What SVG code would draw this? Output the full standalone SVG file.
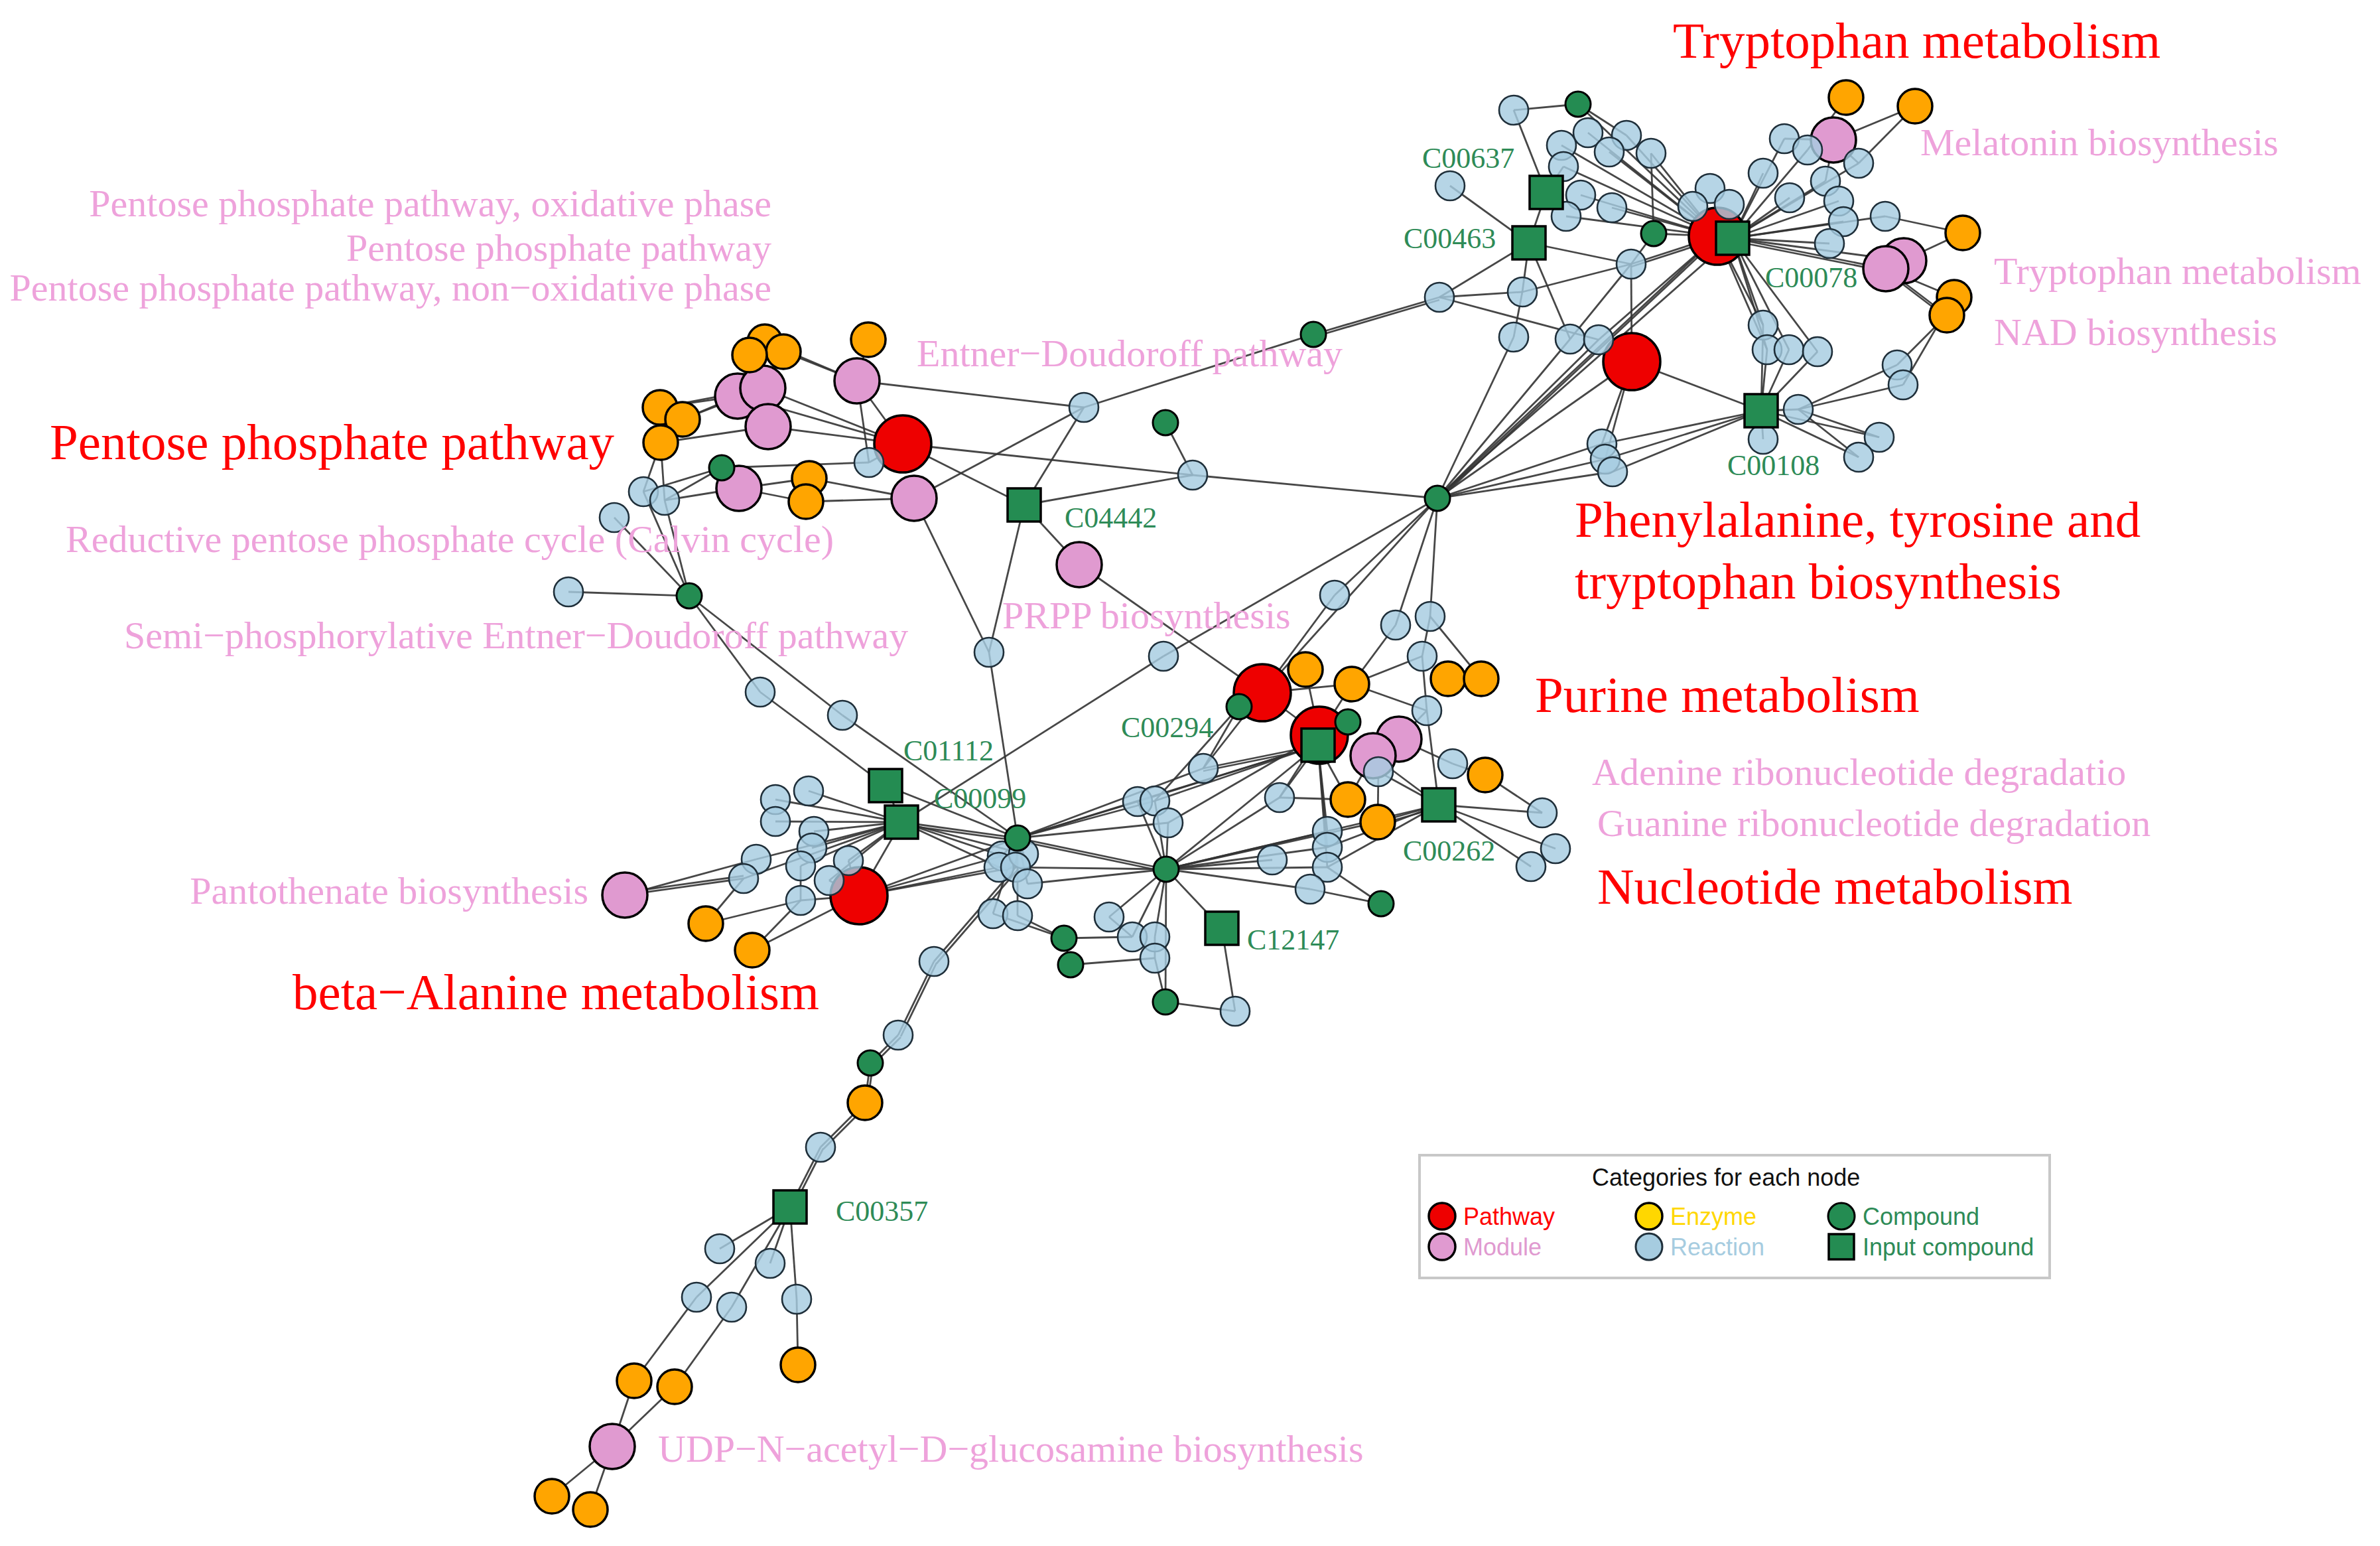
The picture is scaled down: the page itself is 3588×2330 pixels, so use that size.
<svg xmlns="http://www.w3.org/2000/svg" width="3588" height="2330" viewBox="0 0 3588 2330">
<style>
.e line{stroke:#333;stroke-width:2.8;stroke-opacity:0.9}
.P{fill:#EE0000;stroke:#000;stroke-width:3.5}
.M{fill:#E09AD0;stroke:#000;stroke-width:3.5}
.E{fill:#FFA500;stroke:#000;stroke-width:3.5}
.R{fill:#A6CCE0;fill-opacity:0.82;stroke:#1f2f3a;stroke-width:2.6}
.C{fill:#248C52;stroke:#000;stroke-width:3}
.S{fill:#248C52;stroke:#000;stroke-width:3.5}
.Y{fill:#FFD700;stroke:#000;stroke-width:3.5}
text{font-family:"Liberation Serif","Times New Roman",serif}
.lr{fill:#FF0000;font-size:77px}
.lp{fill:#EEA2DB;font-size:58px}
.lg{fill:#2E8B57;font-size:44px}
.lt{font-family:"Liberation Sans",Arial,sans-serif;font-size:36px}
</style>
<rect width="3588" height="2330" fill="#fff"/>
<g class="e" id="connectors">
<line x1="1181" y1="530" x2="1292" y2="574"/>
<line x1="1153" y1="515" x2="1292" y2="574"/>
<line x1="1309" y1="512" x2="1292" y2="574"/>
<line x1="1292" y1="574" x2="1361" y2="669"/>
<line x1="1292" y1="574" x2="1310" y2="697"/>
<line x1="1292" y1="574" x2="1634" y2="614"/>
<line x1="1150" y1="585" x2="995" y2="614"/>
<line x1="1150" y1="585" x2="1029" y2="632"/>
<line x1="1112" y1="597" x2="995" y2="614"/>
<line x1="1112" y1="597" x2="1029" y2="632"/>
<line x1="1150" y1="585" x2="1361" y2="669"/>
<line x1="1112" y1="597" x2="1361" y2="669"/>
<line x1="1158" y1="643" x2="1361" y2="669"/>
<line x1="1158" y1="643" x2="996" y2="667"/>
<line x1="1130" y1="535" x2="1112" y2="597"/>
<line x1="1153" y1="515" x2="1150" y2="585"/>
<line x1="1361" y1="669" x2="1798" y2="716"/>
<line x1="1361" y1="669" x2="1544" y2="761"/>
<line x1="1361" y1="669" x2="1310" y2="697"/>
<line x1="1088" y1="705" x2="1310" y2="697"/>
<line x1="1088" y1="705" x2="970" y2="741"/>
<line x1="1088" y1="705" x2="1002" y2="754"/>
<line x1="1114" y1="736" x2="1220" y2="721"/>
<line x1="1114" y1="736" x2="1215" y2="756"/>
<line x1="1220" y1="721" x2="1378" y2="751"/>
<line x1="1215" y1="756" x2="1378" y2="751"/>
<line x1="970" y1="741" x2="996" y2="667"/>
<line x1="1002" y1="754" x2="996" y2="667"/>
<line x1="1002" y1="754" x2="1114" y2="736"/>
<line x1="926" y1="780" x2="1039" y2="898"/>
<line x1="970" y1="741" x2="1039" y2="898"/>
<line x1="1002" y1="754" x2="1039" y2="898"/>
<line x1="1039" y1="898" x2="857" y2="892"/>
<line x1="1039" y1="898" x2="1146" y2="1043"/>
<line x1="1039" y1="898" x2="1270" y2="1078"/>
<line x1="1146" y1="1043" x2="1335" y2="1184"/>
<line x1="1270" y1="1078" x2="1534" y2="1263"/>
<line x1="1378" y1="751" x2="1491" y2="983"/>
<line x1="1544" y1="761" x2="1491" y2="983"/>
<line x1="1544" y1="761" x2="1627" y2="851"/>
<line x1="1627" y1="851" x2="1903" y2="1044"/>
<line x1="1491" y1="983" x2="1534" y2="1263"/>
<line x1="1634" y1="614" x2="1378" y2="751"/>
<line x1="1634" y1="614" x2="1544" y2="761"/>
<line x1="1634" y1="614" x2="1980" y2="504"/>
<line x1="1757" y1="637" x2="1798" y2="716"/>
<line x1="1798" y1="716" x2="1544" y2="761"/>
<line x1="1798" y1="716" x2="2167" y2="751"/>
<line x1="1754" y1="989" x2="1359" y2="1239"/>
<line x1="1754" y1="989" x2="2167" y2="751"/>
<line x1="1980" y1="504" x2="2170" y2="448"/>
<line x1="1980" y1="508" x2="2170" y2="452"/>
<line x1="942" y1="1349" x2="1121" y2="1324"/>
<line x1="942" y1="1349" x2="1140" y2="1295"/>
<line x1="942" y1="1345" x2="1121" y2="1320"/>
<line x1="1064" y1="1392" x2="1121" y2="1324"/>
<line x1="1064" y1="1392" x2="1207" y2="1357"/>
<line x1="1134" y1="1432" x2="1207" y2="1357"/>
<line x1="1134" y1="1432" x2="1295" y2="1350"/>
<line x1="1359" y1="1239" x2="1169" y2="1205"/>
<line x1="1359" y1="1239" x2="1219" y2="1192"/>
<line x1="1359" y1="1239" x2="1169" y2="1238"/>
<line x1="1359" y1="1239" x2="1227" y2="1253"/>
<line x1="1359" y1="1239" x2="1224" y2="1278"/>
<line x1="1359" y1="1239" x2="1140" y2="1295"/>
<line x1="1359" y1="1239" x2="1207" y2="1305"/>
<line x1="1359" y1="1239" x2="1121" y2="1324"/>
<line x1="1359" y1="1239" x2="1279" y2="1297"/>
<line x1="1359" y1="1239" x2="1250" y2="1327"/>
<line x1="1359" y1="1239" x2="1295" y2="1350"/>
<line x1="1335" y1="1184" x2="1534" y2="1263"/>
<line x1="1359" y1="1239" x2="1534" y2="1263"/>
<line x1="1359" y1="1243" x2="1534" y2="1267"/>
<line x1="1359" y1="1239" x2="1511" y2="1290"/>
<line x1="1359" y1="1239" x2="1506" y2="1307"/>
<line x1="1359" y1="1239" x2="1543" y2="1287"/>
<line x1="1279" y1="1297" x2="1295" y2="1350"/>
<line x1="1250" y1="1327" x2="1295" y2="1350"/>
<line x1="1207" y1="1357" x2="1295" y2="1350"/>
<line x1="1207" y1="1305" x2="1207" y2="1357"/>
<line x1="1295" y1="1350" x2="1511" y2="1290"/>
<line x1="1295" y1="1350" x2="1506" y2="1307"/>
<line x1="1295" y1="1350" x2="1534" y2="1263"/>
<line x1="1295" y1="1350" x2="1531" y2="1307"/>
<line x1="1335" y1="1184" x2="1359" y2="1239"/>
<line x1="1534" y1="1263" x2="1511" y2="1290"/>
<line x1="1534" y1="1263" x2="1543" y2="1287"/>
<line x1="1534" y1="1263" x2="1531" y2="1307"/>
<line x1="1534" y1="1263" x2="1549" y2="1332"/>
<line x1="1534" y1="1263" x2="1497" y2="1377"/>
<line x1="1534" y1="1263" x2="1534" y2="1380"/>
<line x1="1534" y1="1263" x2="1758" y2="1310"/>
<line x1="1534" y1="1267" x2="1758" y2="1314"/>
<line x1="1534" y1="1263" x2="1715" y2="1208"/>
<line x1="1534" y1="1263" x2="1741" y2="1207"/>
<line x1="1534" y1="1263" x2="1761" y2="1240"/>
<line x1="1549" y1="1332" x2="1758" y2="1310"/>
<line x1="1506" y1="1307" x2="1758" y2="1310"/>
<line x1="1531" y1="1307" x2="1408" y2="1449"/>
<line x1="1535" y1="1310" x2="1412" y2="1452"/>
<line x1="1408" y1="1449" x2="1354" y2="1560"/>
<line x1="1412" y1="1451" x2="1358" y2="1562"/>
<line x1="1354" y1="1560" x2="1312" y2="1602"/>
<line x1="1358" y1="1563" x2="1316" y2="1605"/>
<line x1="1312" y1="1602" x2="1304" y2="1662"/>
<line x1="1316" y1="1603" x2="1308" y2="1663"/>
<line x1="1304" y1="1662" x2="1237" y2="1729"/>
<line x1="1308" y1="1665" x2="1241" y2="1732"/>
<line x1="1237" y1="1729" x2="1191" y2="1819"/>
<line x1="1241" y1="1731" x2="1195" y2="1821"/>
<line x1="1534" y1="1380" x2="1604" y2="1414"/>
<line x1="1497" y1="1377" x2="1604" y2="1414"/>
<line x1="1604" y1="1414" x2="1707" y2="1412"/>
<line x1="1614" y1="1454" x2="1741" y2="1444"/>
<line x1="1604" y1="1414" x2="1614" y2="1454"/>
<line x1="1758" y1="1310" x2="1672" y2="1382"/>
<line x1="1758" y1="1310" x2="1707" y2="1412"/>
<line x1="1758" y1="1310" x2="1741" y2="1412"/>
<line x1="1758" y1="1310" x2="1757" y2="1510"/>
<line x1="1741" y1="1444" x2="1757" y2="1510"/>
<line x1="1757" y1="1510" x2="1862" y2="1524"/>
<line x1="1842" y1="1399" x2="1862" y2="1524"/>
<line x1="1842" y1="1399" x2="1758" y2="1310"/>
<line x1="1672" y1="1382" x2="1707" y2="1412"/>
<line x1="1741" y1="1412" x2="1741" y2="1444"/>
<line x1="1758" y1="1310" x2="1715" y2="1208"/>
<line x1="1758" y1="1310" x2="1741" y2="1207"/>
<line x1="1758" y1="1310" x2="1761" y2="1240"/>
<line x1="1758" y1="1310" x2="1918" y2="1296"/>
<line x1="1758" y1="1310" x2="2001" y2="1277"/>
<line x1="1758" y1="1310" x2="2001" y2="1307"/>
<line x1="1758" y1="1310" x2="2077" y2="1239"/>
<line x1="1758" y1="1310" x2="2169" y2="1213"/>
<line x1="1758" y1="1310" x2="2001" y2="1253"/>
<line x1="1929" y1="1202" x2="1758" y2="1310"/>
<line x1="1758" y1="1310" x2="1975" y2="1340"/>
<line x1="1814" y1="1158" x2="1987" y2="1123"/>
<line x1="1814" y1="1162" x2="1987" y2="1127"/>
<line x1="1715" y1="1208" x2="1987" y2="1123"/>
<line x1="1741" y1="1207" x2="1987" y2="1123"/>
<line x1="1761" y1="1240" x2="1989" y2="1108"/>
<line x1="1741" y1="1207" x2="1868" y2="1065"/>
<line x1="1814" y1="1158" x2="1903" y2="1044"/>
<line x1="1868" y1="1065" x2="1814" y2="1158"/>
<line x1="1929" y1="1202" x2="2032" y2="1205"/>
<line x1="1929" y1="1202" x2="1987" y2="1123"/>
<line x1="1987" y1="1123" x2="2001" y2="1253"/>
<line x1="1987" y1="1123" x2="2001" y2="1277"/>
<line x1="1987" y1="1123" x2="2001" y2="1307"/>
<line x1="2032" y1="1205" x2="1987" y2="1123"/>
<line x1="1975" y1="1340" x2="2082" y2="1362"/>
<line x1="2001" y1="1307" x2="2082" y2="1362"/>
<line x1="1903" y1="1044" x2="2038" y2="1031"/>
<line x1="1903" y1="1044" x2="1989" y2="1108"/>
<line x1="1903" y1="1044" x2="2167" y2="751"/>
<line x1="2012" y1="897" x2="1903" y2="1044"/>
<line x1="2012" y1="897" x2="2167" y2="751"/>
<line x1="2104" y1="942" x2="2038" y2="1031"/>
<line x1="2104" y1="942" x2="2167" y2="751"/>
<line x1="2156" y1="929" x2="2167" y2="751"/>
<line x1="2156" y1="929" x2="2144" y2="989"/>
<line x1="2156" y1="929" x2="2233" y2="1023"/>
<line x1="2144" y1="989" x2="2038" y2="1031"/>
<line x1="2144" y1="989" x2="2151" y2="1071"/>
<line x1="2151" y1="1071" x2="2038" y2="1031"/>
<line x1="2151" y1="1071" x2="2169" y2="1213"/>
<line x1="2038" y1="1031" x2="1989" y2="1108"/>
<line x1="1968" y1="1009" x2="1989" y2="1108"/>
<line x1="2109" y1="1114" x2="2190" y2="1151"/>
<line x1="2070" y1="1139" x2="2169" y2="1213"/>
<line x1="2070" y1="1139" x2="2032" y2="1205"/>
<line x1="2078" y1="1163" x2="2077" y2="1239"/>
<line x1="2078" y1="1163" x2="2169" y2="1213"/>
<line x1="2169" y1="1213" x2="2325" y2="1225"/>
<line x1="2169" y1="1213" x2="2345" y2="1279"/>
<line x1="2169" y1="1213" x2="2308" y2="1306"/>
<line x1="2239" y1="1168" x2="2325" y2="1225"/>
<line x1="2190" y1="1151" x2="2239" y2="1168"/>
<line x1="2169" y1="1213" x2="2077" y2="1239"/>
<line x1="2169" y1="1217" x2="2077" y2="1243"/>
<line x1="2169" y1="1213" x2="2001" y2="1277"/>
<line x1="2169" y1="1213" x2="2001" y2="1307"/>
<line x1="2109" y1="1114" x2="2151" y2="1071"/>
<line x1="1987" y1="1123" x2="1758" y2="1310"/>
<line x1="1534" y1="1263" x2="1814" y2="1158"/>
<line x1="1534" y1="1263" x2="1987" y2="1123"/>
<line x1="1929" y1="1202" x2="1989" y2="1108"/>
<line x1="2282" y1="166" x2="2379" y2="157"/>
<line x1="2282" y1="166" x2="2331" y2="290"/>
<line x1="2379" y1="157" x2="2452" y2="204"/>
<line x1="2379" y1="157" x2="2589" y2="356"/>
<line x1="2394" y1="200" x2="2589" y2="356"/>
<line x1="2452" y1="204" x2="2589" y2="356"/>
<line x1="2354" y1="219" x2="2589" y2="356"/>
<line x1="2426" y1="229" x2="2589" y2="356"/>
<line x1="2489" y1="231" x2="2589" y2="356"/>
<line x1="2357" y1="251" x2="2589" y2="356"/>
<line x1="2383" y1="294" x2="2589" y2="356"/>
<line x1="2430" y1="313" x2="2589" y2="356"/>
<line x1="2361" y1="326" x2="2589" y2="356"/>
<line x1="2489" y1="231" x2="2493" y2="352"/>
<line x1="2493" y1="352" x2="2589" y2="356"/>
<line x1="2493" y1="352" x2="2459" y2="398"/>
<line x1="2357" y1="251" x2="2331" y2="290"/>
<line x1="2331" y1="290" x2="2305" y2="366"/>
<line x1="2186" y1="280" x2="2305" y2="366"/>
<line x1="2305" y1="366" x2="2459" y2="398"/>
<line x1="2305" y1="366" x2="2170" y2="448"/>
<line x1="2305" y1="366" x2="2295" y2="440"/>
<line x1="2305" y1="366" x2="2367" y2="511"/>
<line x1="2170" y1="448" x2="2295" y2="440"/>
<line x1="2170" y1="448" x2="2410" y2="512"/>
<line x1="2295" y1="440" x2="2459" y2="398"/>
<line x1="2295" y1="440" x2="2282" y2="508"/>
<line x1="2459" y1="398" x2="2589" y2="356"/>
<line x1="2459" y1="402" x2="2589" y2="360"/>
<line x1="2459" y1="398" x2="2460" y2="545"/>
<line x1="2459" y1="398" x2="2367" y2="511"/>
<line x1="2282" y1="508" x2="2167" y2="751"/>
<line x1="2367" y1="511" x2="2167" y2="751"/>
<line x1="2410" y1="512" x2="2167" y2="751"/>
<line x1="2410" y1="512" x2="2589" y2="356"/>
<line x1="2167" y1="751" x2="2589" y2="356"/>
<line x1="2167" y1="755" x2="2589" y2="360"/>
<line x1="2167" y1="751" x2="2612" y2="359"/>
<line x1="2167" y1="751" x2="2460" y2="545"/>
<line x1="2167" y1="751" x2="2415" y2="669"/>
<line x1="2167" y1="751" x2="2420" y2="692"/>
<line x1="2167" y1="751" x2="2431" y2="711"/>
<line x1="2415" y1="669" x2="2655" y2="619"/>
<line x1="2420" y1="692" x2="2655" y2="619"/>
<line x1="2431" y1="711" x2="2655" y2="619"/>
<line x1="2460" y1="545" x2="2655" y2="619"/>
<line x1="2460" y1="545" x2="2415" y2="669"/>
<line x1="2460" y1="545" x2="2420" y2="692"/>
<line x1="2612" y1="359" x2="2658" y2="490"/>
<line x1="2612" y1="359" x2="2664" y2="527"/>
<line x1="2612" y1="359" x2="2697" y2="527"/>
<line x1="2612" y1="359" x2="2740" y2="530"/>
<line x1="2658" y1="490" x2="2655" y2="619"/>
<line x1="2664" y1="527" x2="2655" y2="619"/>
<line x1="2697" y1="527" x2="2655" y2="619"/>
<line x1="2740" y1="530" x2="2655" y2="619"/>
<line x1="2655" y1="619" x2="2658" y2="662"/>
<line x1="2612" y1="359" x2="2690" y2="209"/>
<line x1="2612" y1="359" x2="2658" y2="261"/>
<line x1="2612" y1="359" x2="2698" y2="298"/>
<line x1="2612" y1="359" x2="2772" y2="303"/>
<line x1="2612" y1="359" x2="2779" y2="334"/>
<line x1="2612" y1="359" x2="2758" y2="367"/>
<line x1="2612" y1="359" x2="2843" y2="405"/>
<line x1="2612" y1="363" x2="2843" y2="409"/>
<line x1="2612" y1="359" x2="2870" y2="393"/>
<line x1="2612" y1="359" x2="2752" y2="273"/>
<line x1="2612" y1="359" x2="2725" y2="226"/>
<line x1="2612" y1="359" x2="2802" y2="246"/>
<line x1="2690" y1="209" x2="2764" y2="211"/>
<line x1="2802" y1="246" x2="2764" y2="211"/>
<line x1="2783" y1="147" x2="2725" y2="226"/>
<line x1="2887" y1="160" x2="2764" y2="211"/>
<line x1="2887" y1="160" x2="2802" y2="246"/>
<line x1="2842" y1="326" x2="2959" y2="351"/>
<line x1="2842" y1="326" x2="2612" y2="359"/>
<line x1="2843" y1="405" x2="2959" y2="351"/>
<line x1="2843" y1="405" x2="2946" y2="448"/>
<line x1="2843" y1="405" x2="2935" y2="475"/>
<line x1="2843" y1="409" x2="2935" y2="479"/>
<line x1="2935" y1="475" x2="2860" y2="550"/>
<line x1="2946" y1="448" x2="2869" y2="580"/>
<line x1="2860" y1="550" x2="2711" y2="617"/>
<line x1="2869" y1="580" x2="2711" y2="617"/>
<line x1="2711" y1="617" x2="2833" y2="659"/>
<line x1="2711" y1="617" x2="2802" y2="689"/>
<line x1="2655" y1="619" x2="2833" y2="659"/>
<line x1="2655" y1="619" x2="2802" y2="689"/>
<line x1="2655" y1="619" x2="2711" y2="617"/>
<line x1="2752" y1="273" x2="2764" y2="211"/>
<line x1="2589" y1="356" x2="2658" y2="490"/>
<line x1="2589" y1="356" x2="2664" y2="527"/>
<line x1="1191" y1="1819" x2="1085" y2="1882"/>
<line x1="1191" y1="1819" x2="1161" y2="1904"/>
<line x1="1191" y1="1819" x2="1050" y2="1955"/>
<line x1="1191" y1="1819" x2="1103" y2="1970"/>
<line x1="1191" y1="1819" x2="1201" y2="1958"/>
<line x1="1050" y1="1955" x2="956" y2="2081"/>
<line x1="1103" y1="1970" x2="1017" y2="2090"/>
<line x1="1201" y1="1958" x2="1203" y2="2057"/>
<line x1="956" y1="2081" x2="923" y2="2180"/>
<line x1="1017" y1="2090" x2="923" y2="2180"/>
<line x1="923" y1="2180" x2="832" y2="2255"/>
<line x1="923" y1="2180" x2="890" y2="2275"/>
</g>
<g id="nodes">
<g id="P1"><circle class="P" cx="1361" cy="669" r="43"/></g>
<g id="P2"><circle class="P" cx="1295" cy="1350" r="43"/></g>
<g id="P3"><circle class="P" cx="1903" cy="1044" r="43"/></g>
<g id="P4"><circle class="P" cx="1989" cy="1108" r="43"/></g>
<g id="P5"><circle class="P" cx="2589" cy="356" r="43"/></g>
<g id="P6"><circle class="P" cx="2460" cy="545" r="43"/></g>
<g id="M3"><circle class="M" cx="1112" cy="597" r="34"/></g>
<g id="M2"><circle class="M" cx="1150" cy="585" r="34"/></g>
<g id="M4"><circle class="M" cx="1158" cy="643" r="34"/></g>
<g id="M1"><circle class="M" cx="1292" cy="574" r="34"/></g>
<g id="M5"><circle class="M" cx="1114" cy="736" r="34"/></g>
<g id="M6"><circle class="M" cx="1378" cy="751" r="34"/></g>
<g id="M7"><circle class="M" cx="1627" cy="851" r="34"/></g>
<g id="M8"><circle class="M" cx="942" cy="1349" r="34"/></g>
<g id="M9"><circle class="M" cx="2109" cy="1114" r="34"/></g>
<g id="M10"><circle class="M" cx="2070" cy="1139" r="34"/></g>
<g id="M11"><circle class="M" cx="2764" cy="211" r="34"/></g>
<g id="M12"><circle class="M" cx="2870" cy="393" r="34"/></g>
<g id="M13"><circle class="M" cx="2843" cy="405" r="34"/></g>
<g id="M14"><circle class="M" cx="923" cy="2180" r="34"/></g>
<g id="E1"><circle class="E" cx="1153" cy="515" r="26"/></g>
<g id="E2"><circle class="E" cx="1181" cy="530" r="26"/></g>
<g id="E3"><circle class="E" cx="1130" cy="535" r="26"/></g>
<g id="E4"><circle class="E" cx="1309" cy="512" r="26"/></g>
<g id="E5"><circle class="E" cx="995" cy="614" r="26"/></g>
<g id="E6"><circle class="E" cx="1029" cy="632" r="26"/></g>
<g id="E7"><circle class="E" cx="996" cy="667" r="26"/></g>
<g id="E8"><circle class="E" cx="1220" cy="721" r="26"/></g>
<g id="E9"><circle class="E" cx="1215" cy="756" r="26"/></g>
<g id="E10"><circle class="E" cx="1064" cy="1392" r="26"/></g>
<g id="E11"><circle class="E" cx="1134" cy="1432" r="26"/></g>
<g id="E12"><circle class="E" cx="1968" cy="1009" r="26"/></g>
<g id="E13"><circle class="E" cx="2038" cy="1031" r="26"/></g>
<g id="E14"><circle class="E" cx="2183" cy="1023" r="26"/></g>
<g id="E15"><circle class="E" cx="2233" cy="1023" r="26"/></g>
<g id="E16"><circle class="E" cx="2239" cy="1168" r="26"/></g>
<g id="E17"><circle class="E" cx="2032" cy="1205" r="26"/></g>
<g id="E18"><circle class="E" cx="2077" cy="1239" r="26"/></g>
<g id="E19"><circle class="E" cx="2783" cy="147" r="26"/></g>
<g id="E20"><circle class="E" cx="2887" cy="160" r="26"/></g>
<g id="E21"><circle class="E" cx="2959" cy="351" r="26"/></g>
<g id="E22"><circle class="E" cx="2946" cy="448" r="26"/></g>
<g id="E23"><circle class="E" cx="2935" cy="475" r="26"/></g>
<g id="E24"><circle class="E" cx="1304" cy="1662" r="26"/></g>
<g id="E25"><circle class="E" cx="1203" cy="2057" r="26"/></g>
<g id="E26"><circle class="E" cx="956" cy="2081" r="26"/></g>
<g id="E27"><circle class="E" cx="1017" cy="2090" r="26"/></g>
<g id="E28"><circle class="E" cx="832" cy="2255" r="26"/></g>
<g id="E29"><circle class="E" cx="890" cy="2275" r="26"/></g>
<g id="R1"><circle class="R" cx="1310" cy="697" r="22"/></g>
<g id="R2"><circle class="R" cx="970" cy="741" r="22"/></g>
<g id="R3"><circle class="R" cx="1002" cy="754" r="22"/></g>
<g id="R4"><circle class="R" cx="926" cy="780" r="22"/></g>
<g id="R5"><circle class="R" cx="857" cy="892" r="22"/></g>
<g id="R6"><circle class="R" cx="1146" cy="1043" r="22"/></g>
<g id="R7"><circle class="R" cx="1270" cy="1078" r="22"/></g>
<g id="R8"><circle class="R" cx="1634" cy="614" r="22"/></g>
<g id="R9"><circle class="R" cx="1798" cy="716" r="22"/></g>
<g id="R10"><circle class="R" cx="1491" cy="983" r="22"/></g>
<g id="R11"><circle class="R" cx="1754" cy="989" r="22"/></g>
<g id="R12"><circle class="R" cx="1169" cy="1205" r="22"/></g>
<g id="R13"><circle class="R" cx="1219" cy="1192" r="22"/></g>
<g id="R14"><circle class="R" cx="1169" cy="1238" r="22"/></g>
<g id="R15"><circle class="R" cx="1227" cy="1253" r="22"/></g>
<g id="R16"><circle class="R" cx="1224" cy="1278" r="22"/></g>
<g id="R17"><circle class="R" cx="1140" cy="1295" r="22"/></g>
<g id="R18"><circle class="R" cx="1207" cy="1305" r="22"/></g>
<g id="R19"><circle class="R" cx="1121" cy="1324" r="22"/></g>
<g id="R20"><circle class="R" cx="1279" cy="1297" r="22"/></g>
<g id="R21"><circle class="R" cx="1250" cy="1327" r="22"/></g>
<g id="R22"><circle class="R" cx="1207" cy="1357" r="22"/></g>
<g id="R23"><circle class="R" cx="1511" cy="1290" r="22"/></g>
<g id="R24"><circle class="R" cx="1506" cy="1307" r="22"/></g>
<g id="R25"><circle class="R" cx="1543" cy="1287" r="22"/></g>
<g id="R26"><circle class="R" cx="1531" cy="1307" r="22"/></g>
<g id="R27"><circle class="R" cx="1549" cy="1332" r="22"/></g>
<g id="R28"><circle class="R" cx="1497" cy="1377" r="22"/></g>
<g id="R29"><circle class="R" cx="1534" cy="1380" r="22"/></g>
<g id="R30"><circle class="R" cx="1408" cy="1449" r="22"/></g>
<g id="R31"><circle class="R" cx="1354" cy="1560" r="22"/></g>
<g id="R32"><circle class="R" cx="1672" cy="1382" r="22"/></g>
<g id="R33"><circle class="R" cx="1707" cy="1412" r="22"/></g>
<g id="R34"><circle class="R" cx="1741" cy="1412" r="22"/></g>
<g id="R35"><circle class="R" cx="1741" cy="1444" r="22"/></g>
<g id="R36"><circle class="R" cx="1715" cy="1208" r="22"/></g>
<g id="R37"><circle class="R" cx="1741" cy="1207" r="22"/></g>
<g id="R38"><circle class="R" cx="1761" cy="1240" r="22"/></g>
<g id="R58"><circle class="R" cx="1814" cy="1158" r="22"/></g>
<g id="R40"><circle class="R" cx="1929" cy="1202" r="22"/></g>
<g id="R41"><circle class="R" cx="2001" cy="1253" r="22"/></g>
<g id="R42"><circle class="R" cx="2001" cy="1277" r="22"/></g>
<g id="R43"><circle class="R" cx="2001" cy="1307" r="22"/></g>
<g id="R44"><circle class="R" cx="1918" cy="1296" r="22"/></g>
<g id="R45"><circle class="R" cx="1975" cy="1340" r="22"/></g>
<g id="R46"><circle class="R" cx="1862" cy="1524" r="22"/></g>
<g id="R48"><circle class="R" cx="2012" cy="897" r="22"/></g>
<g id="R49"><circle class="R" cx="2104" cy="942" r="22"/></g>
<g id="R50"><circle class="R" cx="2156" cy="929" r="22"/></g>
<g id="R51"><circle class="R" cx="2144" cy="989" r="22"/></g>
<g id="R52"><circle class="R" cx="2151" cy="1071" r="22"/></g>
<g id="R53"><circle class="R" cx="2078" cy="1163" r="22"/></g>
<g id="R54"><circle class="R" cx="2190" cy="1151" r="22"/></g>
<g id="R55"><circle class="R" cx="2325" cy="1225" r="22"/></g>
<g id="R56"><circle class="R" cx="2345" cy="1279" r="22"/></g>
<g id="R57"><circle class="R" cx="2308" cy="1306" r="22"/></g>
<g id="R60"><circle class="R" cx="2282" cy="166" r="22"/></g>
<g id="R61"><circle class="R" cx="2394" cy="200" r="22"/></g>
<g id="R62"><circle class="R" cx="2452" cy="204" r="22"/></g>
<g id="R63"><circle class="R" cx="2354" cy="219" r="22"/></g>
<g id="R64"><circle class="R" cx="2426" cy="229" r="22"/></g>
<g id="R65"><circle class="R" cx="2489" cy="231" r="22"/></g>
<g id="R66"><circle class="R" cx="2357" cy="251" r="22"/></g>
<g id="R67"><circle class="R" cx="2383" cy="294" r="22"/></g>
<g id="R68"><circle class="R" cx="2430" cy="313" r="22"/></g>
<g id="R69"><circle class="R" cx="2361" cy="326" r="22"/></g>
<g id="R70"><circle class="R" cx="2186" cy="280" r="22"/></g>
<g id="R71"><circle class="R" cx="2459" cy="398" r="22"/></g>
<g id="R72"><circle class="R" cx="2578" cy="284" r="22"/></g>
<g id="R73"><circle class="R" cx="2552" cy="311" r="22"/></g>
<g id="R74"><circle class="R" cx="2607" cy="308" r="22"/></g>
<g id="R75"><circle class="R" cx="2170" cy="448" r="22"/></g>
<g id="R76"><circle class="R" cx="2295" cy="440" r="22"/></g>
<g id="R77"><circle class="R" cx="2282" cy="508" r="22"/></g>
<g id="R78"><circle class="R" cx="2367" cy="511" r="22"/></g>
<g id="R79"><circle class="R" cx="2410" cy="512" r="22"/></g>
<g id="R80"><circle class="R" cx="2658" cy="490" r="22"/></g>
<g id="R81"><circle class="R" cx="2664" cy="527" r="22"/></g>
<g id="R82"><circle class="R" cx="2697" cy="527" r="22"/></g>
<g id="R83"><circle class="R" cx="2740" cy="530" r="22"/></g>
<g id="R84"><circle class="R" cx="2658" cy="662" r="22"/></g>
<g id="R85"><circle class="R" cx="2415" cy="669" r="22"/></g>
<g id="R86"><circle class="R" cx="2420" cy="692" r="22"/></g>
<g id="R87"><circle class="R" cx="2431" cy="711" r="22"/></g>
<g id="R88"><circle class="R" cx="2690" cy="209" r="22"/></g>
<g id="R89"><circle class="R" cx="2658" cy="261" r="22"/></g>
<g id="R90"><circle class="R" cx="2698" cy="298" r="22"/></g>
<g id="R91"><circle class="R" cx="2725" cy="226" r="22"/></g>
<g id="R92"><circle class="R" cx="2802" cy="246" r="22"/></g>
<g id="R93"><circle class="R" cx="2752" cy="273" r="22"/></g>
<g id="R94"><circle class="R" cx="2772" cy="303" r="22"/></g>
<g id="R95"><circle class="R" cx="2779" cy="334" r="22"/></g>
<g id="R96"><circle class="R" cx="2842" cy="326" r="22"/></g>
<g id="R97"><circle class="R" cx="2758" cy="367" r="22"/></g>
<g id="R98"><circle class="R" cx="2860" cy="550" r="22"/></g>
<g id="R99"><circle class="R" cx="2869" cy="580" r="22"/></g>
<g id="R100"><circle class="R" cx="2711" cy="617" r="22"/></g>
<g id="R101"><circle class="R" cx="2833" cy="659" r="22"/></g>
<g id="R102"><circle class="R" cx="2802" cy="689" r="22"/></g>
<g id="R103"><circle class="R" cx="1237" cy="1729" r="22"/></g>
<g id="R104"><circle class="R" cx="1085" cy="1882" r="22"/></g>
<g id="R105"><circle class="R" cx="1161" cy="1904" r="22"/></g>
<g id="R106"><circle class="R" cx="1050" cy="1955" r="22"/></g>
<g id="R107"><circle class="R" cx="1103" cy="1970" r="22"/></g>
<g id="R108"><circle class="R" cx="1201" cy="1958" r="22"/></g>
<g id="C1"><circle class="C" cx="1088" cy="705" r="19"/></g>
<g id="C2"><circle class="C" cx="1039" cy="898" r="19"/></g>
<g id="C3"><circle class="C" cx="1757" cy="637" r="19"/></g>
<g id="C4"><circle class="C" cx="1980" cy="504" r="19"/></g>
<g id="C5"><circle class="C" cx="2167" cy="751" r="19"/></g>
<g id="C6"><circle class="C" cx="1534" cy="1263" r="19"/></g>
<g id="C7"><circle class="C" cx="1604" cy="1414" r="19"/></g>
<g id="C8"><circle class="C" cx="1614" cy="1454" r="19"/></g>
<g id="C9"><circle class="C" cx="1758" cy="1310" r="19"/></g>
<g id="C10"><circle class="C" cx="1757" cy="1510" r="19"/></g>
<g id="C11"><circle class="C" cx="2082" cy="1362" r="19"/></g>
<g id="C13"><circle class="C" cx="1868" cy="1065" r="19"/></g>
<g id="C14"><circle class="C" cx="2032" cy="1088" r="19"/></g>
<g id="C15"><circle class="C" cx="2379" cy="157" r="19"/></g>
<g id="C16"><circle class="C" cx="2493" cy="352" r="19"/></g>
<g id="C17"><circle class="C" cx="1312" cy="1602" r="19"/></g>
<g id="S1"><rect class="S" x="1519" y="736" width="50" height="50"/><text class="lg" x="1605" y="795">C04442</text></g>
<g id="S2"><rect class="S" x="1310" y="1159" width="50" height="50"/><text class="lg" x="1362" y="1146">C01112</text></g>
<g id="S3"><rect class="S" x="1334" y="1214" width="50" height="50"/><text class="lg" x="1408" y="1218">C00099</text></g>
<g id="S4"><rect class="S" x="1817" y="1374" width="50" height="50"/><text class="lg" x="1880" y="1431">C12147</text></g>
<g id="S5"><rect class="S" x="1962" y="1098" width="50" height="50"/><text class="lg" x="1690" y="1111">C00294</text></g>
<g id="S6"><rect class="S" x="2144" y="1188" width="50" height="50"/><text class="lg" x="2115" y="1297">C00262</text></g>
<g id="S7"><rect class="S" x="2306" y="265" width="50" height="50"/><text class="lg" x="2144" y="253">C00637</text></g>
<g id="S8"><rect class="S" x="2280" y="341" width="50" height="50"/><text class="lg" x="2116" y="374">C00463</text></g>
<g id="S9"><rect class="S" x="2587" y="334" width="50" height="50"/><text class="lg" x="2661" y="433">C00078</text></g>
<g id="S10"><rect class="S" x="2630" y="594" width="50" height="50"/><text class="lg" x="2604" y="716">C00108</text></g>
<g id="S11"><rect class="S" x="1166" y="1794" width="50" height="50"/><text class="lg" x="1260" y="1840">C00357</text></g>
</g>
<g id="labels">
<text class="lr" x="2522" y="87">Tryptophan metabolism</text>
<text class="lr" x="75" y="692">Pentose phosphate pathway</text>
<text class="lr" x="2374" y="809">Phenylalanine, tyrosine and</text>
<text class="lr" x="2374" y="902">tryptophan biosynthesis</text>
<text class="lr" x="2314" y="1073">Purine metabolism</text>
<text class="lr" x="2408" y="1362">Nucleotide metabolism</text>
<text class="lr" x="441" y="1521">beta−Alanine metabolism</text>
<text class="lp" x="1163" y="326" text-anchor="end">Pentose phosphate pathway, oxidative phase</text>
<text class="lp" x="1163" y="393" text-anchor="end">Pentose phosphate pathway</text>
<text class="lp" x="1163" y="453" text-anchor="end">Pentose phosphate pathway, non−oxidative phase</text>
<text class="lp" x="1382" y="552">Entner−Doudoroff pathway</text>
<text class="lp" x="99" y="832">Reductive pentose phosphate cycle (Calvin cycle)</text>
<text class="lp" x="187" y="977">Semi−phosphorylative Entner−Doudoroff pathway</text>
<text class="lp" x="1511" y="947">PRPP biosynthesis</text>
<text class="lp" x="887" y="1362" text-anchor="end">Pantothenate biosynthesis</text>
<text class="lp" x="992" y="2203">UDP−N−acetyl−D−glucosamine biosynthesis</text>
<text class="lp" x="2895" y="234">Melatonin biosynthesis</text>
<text class="lp" x="3006" y="428">Tryptophan metabolism</text>
<text class="lp" x="3006" y="520">NAD biosynthesis</text>
<text class="lp" x="2400" y="1183">Adenine ribonucleotide degradatio</text>
<text class="lp" x="2408" y="1260">Guanine ribonucleotide degradation</text>
</g>
<g id="legend">
<rect x="2140" y="1741" width="950" height="185" fill="#fff" stroke="#c8c8c8" stroke-width="4"/>
<text class="lt" x="2400" y="1787" fill="#111">Categories for each node</text>
<circle class="P" cx="2174" cy="1833" r="20"/>
<text class="lt" x="2206" y="1846" fill="#FF0000">Pathway</text>
<circle class="M" cx="2174" cy="1879" r="20"/>
<text class="lt" x="2206" y="1892" fill="#E09AD0">Module</text>
<circle class="Y" cx="2486" cy="1833" r="20"/>
<text class="lt" x="2518" y="1846" fill="#FFD700">Enzyme</text>
<circle cx="2486" cy="1879" r="20" fill="#A6CCE0" stroke="#1f2f3a" stroke-width="3"/>
<text class="lt" x="2518" y="1892" fill="#A6CCE0">Reaction</text>
<circle class="C" cx="2776" cy="1833" r="20"/>
<text class="lt" x="2808" y="1846" fill="#2E8B57">Compound</text>
<rect class="S" x="2757" y="1860" width="38" height="38"/>
<text class="lt" x="2808" y="1892" fill="#2E8B57">Input compound</text>
</g>
</svg>
